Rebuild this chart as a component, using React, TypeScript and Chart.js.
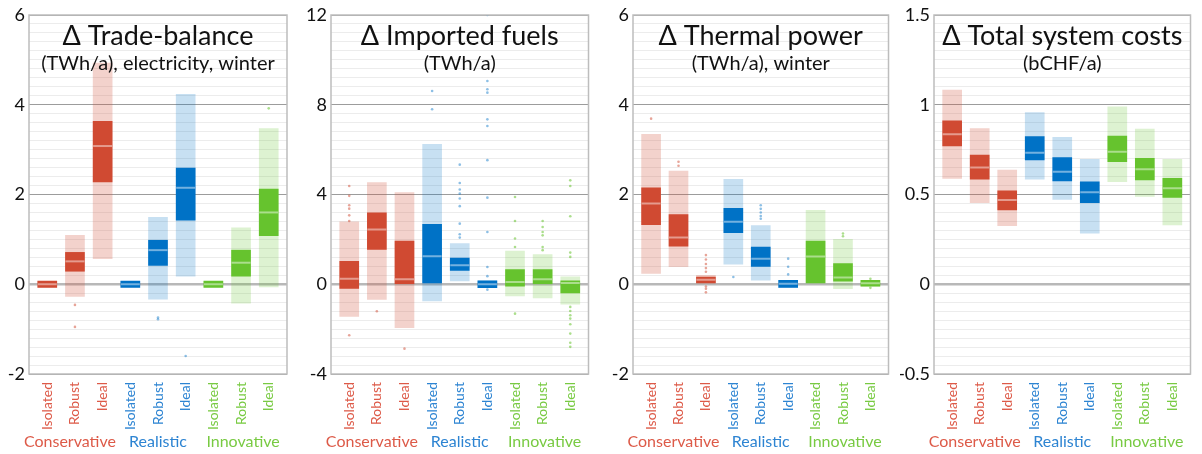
import React, { useEffect, useRef } from 'react';
import { Chart, registerables } from 'chart.js';
Chart.register(...registerables);

const categories = ['Isolated', 'Robust', 'Ideal', 'Isolated', 'Robust', 'Ideal', 'Isolated', 'Robust', 'Ideal'];
const groups = ['Conservative', 'Realistic', 'Innovative'];

// Panel 1: Δ Trade-balance (TWh/a), electricity, winter
const tradeLow = [-0.07, -0.27, 0.57, -0.07, -0.33, 0.18, -0.07, -0.42, -0.06];
const tradeQ1 = [-0.07, 0.29, 2.28, -0.07, 0.42, 1.43, -0.07, 0.18, 1.08];
const tradeMedian = [0, 0.51, 3.08, 0, 0.76, 2.15, 0, 0.48, 1.6];
const tradeQ3 = [0.07, 0.71, 3.63, 0.07, 0.98, 2.59, 0.07, 0.76, 2.12];
const tradeHigh = [0.07, 1.09, 4.93, 0.07, 1.49, 4.23, 0.07, 1.26, 3.47];
const tradeOutliers = [[], [-0.46, -0.95], [], [], [-0.74, -0.78], [-1.6], [], [], [3.92]];
const tradeTicks = [-2, 0, 2, 4, 6];

// Panel 2: Δ Imported fuels (TWh/a)
const fuelsLow = [-1.43, -0.68, -1.93, -0.74, 0.15, -0.15, -0.52, -0.61, -0.89];
const fuelsQ1 = [-0.19, 1.55, 0.03, 0, 0.62, -0.15, -0.09, 0.03, -0.39];
const fuelsMedian = [0.25, 2.44, 0.22, 1.25, 0.85, 0, 0.1, 0.22, 0.06];
const fuelsQ3 = [1.02, 3.18, 1.92, 2.67, 1.17, 0.15, 0.65, 0.65, 0.15];
const fuelsHigh = [2.78, 4.53, 4.09, 6.24, 1.81, 0.15, 1.48, 1.32, 0.33];
const fuelsOutliers = [
  [4.38, 3.94, 3.52, 3.37, 3.07, 2.82, -2.27],
  [-1.2],
  [-2.87],
  [8.61, 7.8],
  [5.33, 4.51, 4.22, 4.04, 3.82, 3.48, 2.7, 2.23, 2.08],
  [12.0, 9.06, 8.69, 8.54, 7.35, 7.05, 5.53, 3.86, 2.33, 0.77, 0.36, -0.24],
  [3.89, 2.82, 2.04, 1.66, -1.31],
  [2.82, 2.55, 2.33, 2.18, 1.66, 1.52],
  [4.63, 4.38, 3.03, 1.41, 1.22, -1.01, -1.19, -1.38, -1.53, -1.78, -2.2, -2.61, -2.79],
];
const fuelsTicks = [-4, 0, 4, 8, 12];

// Panel 3: Δ Thermal power (TWh/a), winter
const thermalLow = [0.24, 0.39, 0.0, 0.45, 0.09, -0.07, 0, -0.1, -0.04];
const thermalQ1 = [1.33, 0.85, 0.03, 1.15, 0.4, -0.07, 0, 0.07, -0.04];
const thermalMedian = [1.8, 1.04, 0.1, 1.39, 0.57, 0.01, 0.62, 0.15, 0.02];
const thermalQ3 = [2.15, 1.55, 0.16, 1.69, 0.83, 0.09, 0.96, 0.46, 0.09];
const thermalHigh = [3.34, 2.52, 0.2, 2.34, 1.31, 0.09, 1.65, 1.0, 0.09];
const thermalOutliers = [
  [3.69],
  [2.73, 2.64],
  [0.65, 0.55, 0.45, 0.36, 0.28, -0.05, -0.1, -0.18],
  [0.16],
  [1.76, 1.68, 1.6, 1.52, 1.46],
  [0.57, 0.39, 0.22],
  [],
  [1.13, 1.07],
  [0.12, -0.08],
];
const thermalTicks = [-2, 0, 2, 4, 6];

// Panel 4: Δ Total system costs (bCHF/a)
const costsLow = [0.589, 0.454, 0.326, 0.585, 0.473, 0.284, 0.571, 0.49, 0.33];
const costsQ1 = [0.77, 0.585, 0.414, 0.692, 0.575, 0.454, 0.683, 0.581, 0.484];
const costsMedian = [0.835, 0.65, 0.469, 0.733, 0.627, 0.512, 0.738, 0.64, 0.535];
const costsQ3 = [0.91, 0.72, 0.521, 0.822, 0.706, 0.571, 0.826, 0.701, 0.59];
const costsHigh = [1.082, 0.867, 0.636, 0.956, 0.818, 0.696, 0.988, 0.865, 0.696];
const costsOutliers = [[], [], [], [], [], [], [], [], []];
const costsTicks = [-0.5, 0, 0.5, 1, 1.5];

const darkColors = ['#D04A32', '#0072C6', '#66C32E'];
const lightColors = ['rgba(208,74,50,0.25)', 'rgba(0,114,198,0.22)', 'rgba(102,195,46,0.22)'];
const dotColors = ['rgba(208,74,50,0.5)', 'rgba(0,114,198,0.45)', 'rgba(102,195,46,0.55)'];
const labelColors = ['#DD5A48', '#2D84D2', '#78CA42'];
const FONT = 'Lato, "Open Sans", sans-serif';

type Panel = {
  title: string; subtitle: string;
  low: number[]; q1: number[]; med: number[]; q3: number[]; high: number[]; out: number[][];
  ticks: number[]; left: number; right: number; width: number; offset: number;
};

const panels: Panel[] = [
  { title: 'Δ Trade-balance', subtitle: '(TWh/a), electricity, winter', low: tradeLow, q1: tradeQ1, med: tradeMedian, q3: tradeQ3, high: tradeHigh, out: tradeOutliers, ticks: tradeTicks, left: 29, right: 287, width: 300, offset: 0 },
  { title: 'Δ Imported fuels', subtitle: '(TWh/a)', low: fuelsLow, q1: fuelsQ1, med: fuelsMedian, q3: fuelsQ3, high: fuelsHigh, out: fuelsOutliers, ticks: fuelsTicks, left: 31, right: 289, width: 300, offset: 300 },
  { title: 'Δ Thermal power', subtitle: '(TWh/a), winter', low: thermalLow, q1: thermalQ1, med: thermalMedian, q3: thermalQ3, high: thermalHigh, out: thermalOutliers, ticks: thermalTicks, left: 33, right: 291, width: 300, offset: 600 },
  { title: 'Δ Total system costs', subtitle: '(bCHF/a)', low: costsLow, q1: costsQ1, med: costsMedian, q3: costsQ3, high: costsHigh, out: costsOutliers, ticks: costsTicks, left: 34, right: 293, width: 302, offset: 900 },
];

const H = 454;

function buildTicks(major: number[]) {
  const min = major[0];
  const step = major[1] - major[0];
  const n = (major.length - 1) * 10;
  const out: { value: number; isMajor: boolean }[] = [];
  for (let k = 0; k <= n; k++) {
    out.push({ value: +(min + (k * step) / 10).toFixed(6), isMajor: k % 10 === 0 });
  }
  return out;
}

function PanelChart({ p }: { p: Panel }) {
  const ref = useRef<HTMLCanvasElement | null>(null);
  useEffect(() => {
    if (!ref.current) return;
    const grp = (i: number) => Math.floor(i / 3);
    const tickList = buildTicks(p.ticks);
    const majorSet = new Set(p.ticks.map((v) => +v.toFixed(6)));
    const outData: { x: number; y: number }[] = [];
    p.out.forEach((arr, i) => arr.forEach((v) => outData.push({ x: i, y: v })));

    const decor = {
      id: 'decor',
      afterDraw(chart: any) {
        const { ctx, chartArea: a, scales } = chart;
        ctx.save();
        ctx.strokeStyle = '#bdbdbd';
        ctx.lineWidth = 1.5;
        ctx.strokeRect(a.left, a.top, a.right - a.left, a.bottom - a.top);
        const cx = (a.left + a.right) / 2;
        ctx.fillStyle = '#111';
        ctx.textAlign = 'center';
        ctx.textBaseline = 'alphabetic';
        ctx.font = `27px ${FONT}`;
        ctx.fillText(p.title, cx, 45);
        ctx.font = `20px ${FONT}`;
        ctx.fillText(p.subtitle, cx, 70);
        categories.forEach((c, i) => {
          const x = scales.x.getPixelForValue(i);
          ctx.save();
          ctx.translate(x, a.bottom + 8);
          ctx.rotate(-Math.PI / 2);
          ctx.textAlign = 'right';
          ctx.textBaseline = 'middle';
          ctx.fillStyle = labelColors[grp(i)];
          ctx.font = `14px ${FONT}`;
          ctx.fillText(c, 0, 0);
          ctx.restore();
        });
        const gOff = [-5, 0, 2];
        groups.forEach((g, gi) => {
          const x = scales.x.getPixelForValue(gi * 3 + 1) + gOff[gi];
          ctx.fillStyle = labelColors[gi];
          ctx.font = `16px ${FONT}`;
          ctx.textAlign = 'center';
          ctx.fillText(g, x, 447);
        });
        ctx.restore();
      },
    };

    const chart = new Chart(ref.current, {
      type: 'bar',
      data: {
        datasets: [
          {
            type: 'bar',
            data: categories.map((_, i) => ({ x: i, y: [p.low[i], p.high[i]] })) as any,
            backgroundColor: categories.map((_, i) => lightColors[grp(i)]),
            barThickness: 19,
            grouped: false,
            borderWidth: 0,
            order: 4,
          } as any,
          {
            type: 'bar',
            data: categories.map((_, i) => ({ x: i, y: [p.q1[i], p.q3[i]] })) as any,
            backgroundColor: categories.map((_, i) => darkColors[grp(i)]),
            barThickness: 19,
            grouped: false,
            borderWidth: 0,
            order: 3,
          } as any,
          {
            type: 'scatter',
            data: categories.map((_, i) => ({ x: i, y: p.med[i] })),
            pointStyle: 'line',
            pointRadius: 9.5,
            pointHoverRadius: 9.5,
            borderWidth: 2,
            borderColor: 'rgba(255,255,255,0.45)',
            backgroundColor: 'rgba(255,255,255,0.45)',
            order: 2,
          } as any,
          {
            type: 'scatter',
            data: outData,
            pointRadius: 1.3,
            pointHoverRadius: 1.3,
            borderWidth: 0,
            backgroundColor: outData.map((d) => dotColors[grp(d.x)]),
            order: 1,
          } as any,
        ],
      },
      options: {
        animation: false,
        responsive: false,
        events: [],
        layout: { padding: { top: 15, right: p.width - p.right, bottom: 80, left: 0 } },
        plugins: { legend: { display: false }, tooltip: { enabled: false }, title: { display: false } },
        scales: {
          x: { type: 'linear', min: -0.66, max: 8.66, offset: false, display: false },
          y: {
            type: 'linear',
            min: p.ticks[0],
            max: p.ticks[p.ticks.length - 1],
            afterBuildTicks: (s: any) => {
              s.ticks = tickList.map((t) => ({ value: t.value }));
            },
            afterFit: (s: any) => {
              s.width = p.left;
            },
            border: { display: false },
            grid: {
              drawTicks: false,
              color: (ctx: any) => {
                const v = ctx.tick ? +(+ctx.tick.value).toFixed(6) : 1;
                if (v === 0) return '#b8b8b8';
                return majorSet.has(v) ? '#9c9c9c' : '#ececec';
              },
              lineWidth: (ctx: any) => {
                const v = ctx.tick ? +(+ctx.tick.value).toFixed(6) : 1;
                if (v === 0) return 2.5;
                return 1;
              },
            },
            ticks: {
              autoSkip: false,
              padding: 4,
              color: '#111',
              font: { family: FONT, size: 18 },
              callback: (v: any) => (majorSet.has(+(+v).toFixed(6)) ? String(+(+v).toFixed(6)) : ''),
            },
          },
        },
      } as any,
      plugins: [decor],
    });
    return () => chart.destroy();
  }, [p]);
  return (
    <canvas
      ref={ref}
      width={p.width}
      height={H}
      style={{ position: 'absolute', left: p.offset, top: 0, width: p.width, height: H }}
    />
  );
}

export default function App() {
  useEffect(() => {
    document.body.style.margin = '0';
    document.body.style.background = '#fff';
  }, []);
  return (
    <div style={{ position: 'relative', width: 1202, height: H, background: '#fff', overflow: 'hidden' }}>
      {panels.map((p, i) => (
        <PanelChart key={i} p={p} />
      ))}
    </div>
  );
}
